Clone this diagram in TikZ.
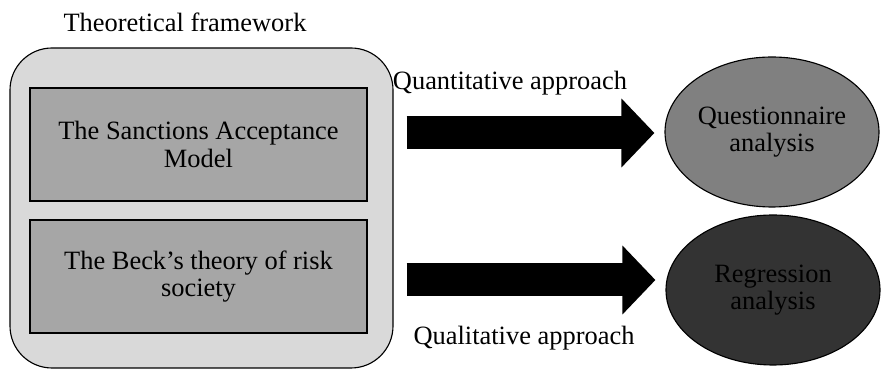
\documentclass[tikz,border=0pt]{standalone}
\usepackage{fontspec}
\setmainfont{Liberation Serif}
\usetikzlibrary{shapes.geometric,arrows.meta}

\tikzset{
  theory/.style={draw=black,line width=0.8pt,fill=black!35,minimum width=8.425cm,minimum height=2.825cm,align=center,inner sep=0pt},
  method/.style={draw=black,line width=0.8pt,ellipse,minimum width=5.35cm,minimum height=3.75cm,align=center,inner sep=0pt},
  block arrow/.style={line width=0.825cm,-{Triangle[length=0.825cm,width=1.675cm]},shorten <=0.325cm,shorten >=0.25cm}
}

\begin{document}
\begin{tikzpicture}[font=\fontsize{18.8}{19.5}\selectfont]
  \useasboundingbox (0,0) rectangle (22.05,-9.25);

  \node[draw=black,line width=0.8pt,fill=black!15,rounded corners=1.05cm,minimum width=9.575cm,minimum height=8cm] (frame) at (5.0375,-5.2) {};
  \node (frame title) at (4.625,-0.55) {Theoretical framework};

  \node[theory] (sanctions) at (4.9625,-3.6125) {The Sanctions Acceptance\\Model};
  \node[theory] (beck) at (4.9625,-6.9125) {The Beck's theory of risk\\society};

  \node[method,fill=black!50] (questionnaire) at (19.3,-3.3) {Questionnaire\\analysis};
  \node[method,fill=black!80,text=black] (regression) at (19.325,-7.25) {Regression\\analysis};

  \draw[block arrow] ([yshift=-0.025cm]frame.east |- questionnaire.west) -- ([yshift=-0.025cm]questionnaire.west);
  \draw[block arrow] ([yshift=0.25cm]frame.east |- regression.west) -- ([yshift=0.25cm]regression.west);

  \node (quantitative) at (12.75,-2.075) {Quantitative approach};
  \node (qualitative) at (13.1,-8.45) {Qualitative approach};
\end{tikzpicture}
\end{document}
